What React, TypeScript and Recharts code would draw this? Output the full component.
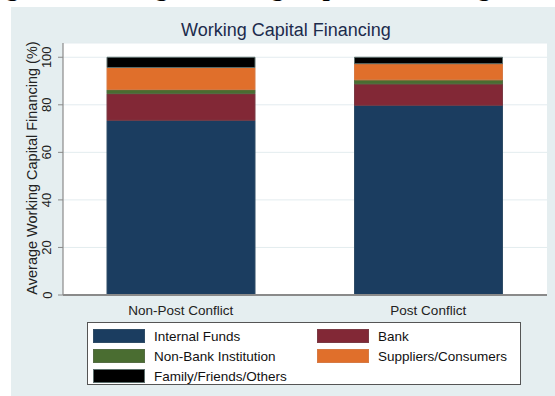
import { BarChart, Bar, XAxis, YAxis, CartesianGrid } from 'recharts';

const categories = ['Non-Post Conflict', 'Post Conflict'];
const internalFunds = [73.5, 79.8];
const bank = [11.2, 9.0];
const nonBank = [1.7, 1.7];
const suppliers = [9.3, 6.8];
const family = [4.3, 2.7];
const yTicks = [0, 20, 40, 60, 80, 100];

const series = [
  { key: 'internal', name: 'Internal Funds', fill: '#1b3d60', stroke: '#2f4c66' },
  { key: 'bank', name: 'Bank', fill: '#822836', stroke: '#7a3a44' },
  { key: 'nonBank', name: 'Non-Bank Institution', fill: '#4a6d31', stroke: '#556d44' },
  { key: 'suppliers', name: 'Suppliers/Consumers', fill: '#e06f2b', stroke: '#d67a44' },
  { key: 'family', name: 'Family/Friends/Others', fill: '#000000', stroke: '#5c6e6c' }
];

const chartData = categories.map((name, i) => ({
  name,
  internal: internalFunds[i],
  bank: bank[i],
  nonBank: nonBank[i],
  suppliers: suppliers[i],
  family: family[i]
}));

const font = '"Liberation Sans", Arial, sans-serif';

// rotated y tick labels, stata style
function YTick(props: any) {
  const { y, payload } = props;
  return <text x={47} y={y} transform={`rotate(-90, 47, ${y})`} textAnchor="middle" dominantBaseline="central" fontSize={13} fontFamily={font} fill="#222">
      {payload.value}
    </text>;
}

function LegendBox() {
  return <div style={{
    position: 'absolute',
    left: 87,
    top: 322,
    width: 434,
    height: 63,
    background: '#fff',
    border: '1px solid #555',
    boxSizing: 'border-box',
    fontFamily: font,
    fontSize: 13.5,
    color: '#111'
  }}>
      {series.map((s, i) => {
      const col = i % 2;
      const row = Math.floor(i / 2);
      return <div key={s.key} style={{
        position: 'absolute',
        left: col === 0 ? 5 : 229,
        top: 6 + row * 20,
        height: 14,
        display: 'flex',
        alignItems: 'center'
      }}>
            <div style={{
          width: 52,
          height: 14,
          background: s.fill,
          border: `1px solid ${s.stroke}`,
          boxSizing: 'border-box'
        }} />
            <span style={{ marginLeft: 9, whiteSpace: 'nowrap' }}>{s.name}</span>
          </div>;
    })}
    </div>;
}

export default function App() {
  return <div style={{
    position: 'absolute',
    left: 0,
    top: 0,
    width: 555,
    height: 396,
    background: '#fff',
    overflow: 'hidden'
  }}>
      <div style={{
      position: 'absolute',
      left: -17,
      top: -25,
      fontFamily: '"Liberation Serif", "Times New Roman", serif',
      fontWeight: 'bold',
      fontSize: 26,
      lineHeight: 1,
      whiteSpace: 'nowrap',
      color: '#000'
    }}>
        Figure 4: Average Working Capital Financing
      </div>
      <div style={{
      position: 'absolute',
      left: 11,
      top: 7,
      right: 0,
      bottom: 0,
      background: '#e5eef0'
    }} />
      <div style={{
      position: 'absolute',
      left: 0,
      top: 20,
      width: 555,
      textAlign: 'center',
      paddingLeft: 17,
      boxSizing: 'border-box',
      fontFamily: font,
      fontSize: 18,
      color: '#1c2b4c'
    }}>
        Working Capital Financing
      </div>
      <div style={{
      position: 'absolute',
      left: 32,
      top: 168,
      transform: 'translate(-50%, -50%) rotate(-90deg)',
      fontFamily: font,
      fontSize: 14.5,
      color: '#222',
      whiteSpace: 'nowrap'
    }}>
        Average Working Capital Financing (%)
      </div>
      <div style={{ position: 'absolute', left: 0, top: 0 }}>
        <BarChart width={555} height={396} data={chartData} margin={{
        top: 43,
        right: 8,
        left: 0,
        bottom: 0
      }} barSize={148}>
          <CartesianGrid vertical={false} stroke="#e3ecef" fill="#ffffff" />
          <XAxis dataKey="name" height={101} padding={{ left: -6, right: -5 }} tickLine={false} axisLine={{
          stroke: '#8a8a8a',
          strokeWidth: 2
        }} tick={{
          fontSize: 13.5,
          fontFamily: font,
          fill: '#222'
        }} tickMargin={4} />
          <YAxis width={63} domain={[0, 106]} ticks={yTicks} interval={0} tick={<YTick />} tickSize={5} tickLine={{
          stroke: '#8a8a8a'
        }} axisLine={{
          stroke: '#8a8a8a',
          strokeWidth: 1.2
        }} />
          {series.map(s => <Bar key={s.key} dataKey={s.key} name={s.name} stackId="a" fill={s.fill} stroke={s.stroke} strokeWidth={1} isAnimationActive={false} />)}
        </BarChart>
      </div>
      <LegendBox />
    </div>;
}
